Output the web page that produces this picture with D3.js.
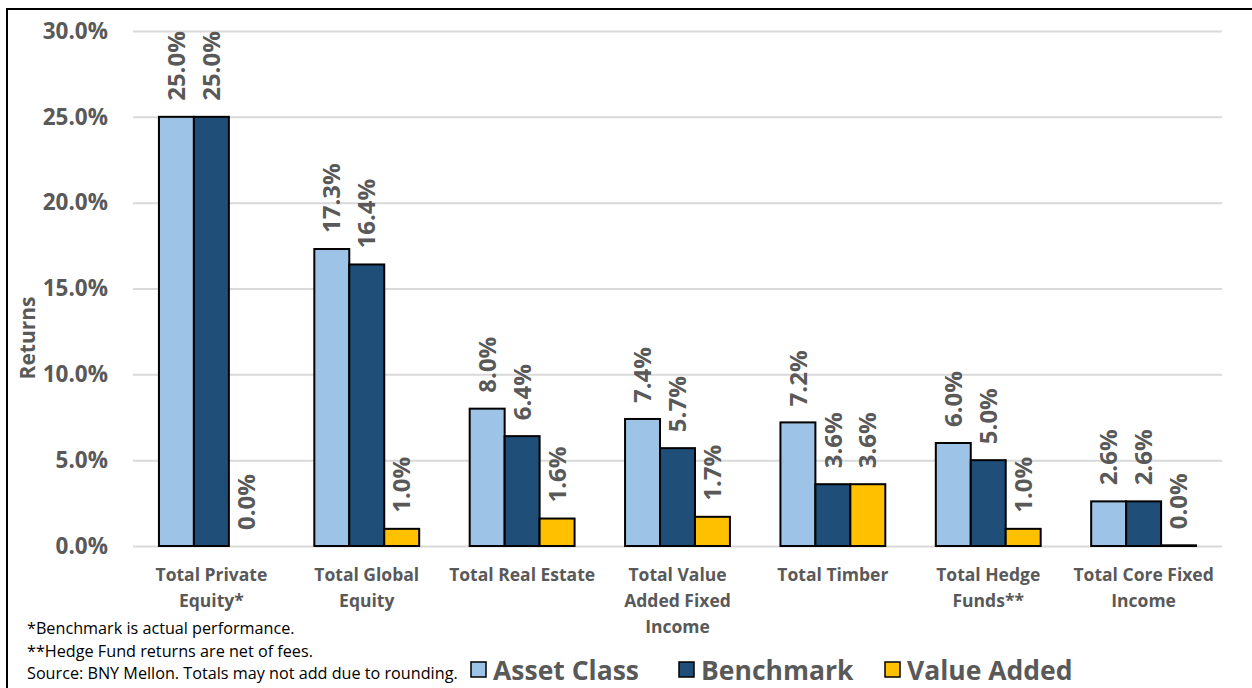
<!DOCTYPE html>
<head>
    <meta charset="utf-8">
    <style>
        body { margin: 0; background: #fff; }
        svg { display: block; font-family: "Open Sans", Lato, sans-serif; }
        .grid line { stroke: #d9d9d9; stroke-width: 2; }
        .grid path { display: none; }
        .yaxis path, .yaxis line { display: none; }
        .yaxis text { font-family: "Open Sans", sans-serif; font-size: 22.5px; font-weight: bold; fill: #595959; }
    </style>
</head>
<body>
    <div id="chart"></div>
    <script src="https://cdnjs.cloudflare.com/ajax/libs/d3/7.8.5/d3.min.js"></script>
    <script>
        var categories = [
            ["Total Private", "Equity*"],
            ["Total Global", "Equity"],
            ["Total Real Estate"],
            ["Total Value", "Added Fixed", "Income"],
            ["Total Timber"],
            ["Total Hedge", "Funds**"],
            ["Total Core Fixed", "Income"]
        ];
        var series = ["Asset Class", "Benchmark", "Value Added"];
        var assetClass = [25.0, 17.3, 8.0, 7.4, 7.2, 6.0, 2.6];
        var benchmark = [25.0, 16.4, 6.4, 5.7, 3.6, 5.0, 2.6];
        var valueAdded = [0.0, 1.0, 1.6, 1.7, 3.6, 1.0, 0.04];
        var yTicks = [0, 5, 10, 15, 20, 25, 30];
        var footnotes = [
            "*Benchmark is actual performance.",
            "**Hedge Fund returns are net of fees.",
            "Source: BNY Mellon. Totals may not add due to rounding."
        ];

        var colors = {"Asset Class": "#9dc3e6", "Benchmark": "#1f4e79", "Value Added": "#ffc000"};
        var grey = "#595959";

        var W = 1252, H = 688;
        var margin = {top: 31, right: 30, bottom: 142, left: 133};
        var width = W - margin.left - margin.right,
            height = H - margin.top - margin.bottom;

        var svg = d3.select("#chart").append("svg")
            .attr("width", W)
            .attr("height", H);

        // outer border (only top and left show in the frame)
        svg.append("rect")
            .attr("x", 7).attr("y", 9)
            .attr("width", W + 20).attr("height", H + 20)
            .attr("fill", "none").attr("stroke", "#000").attr("stroke-width", 2);

        var g = svg.append("g").attr("transform", "translate(" + margin.left + "," + margin.top + ")");

        var keys = categories.map(function(c) { return c.join(" "); });
        var data = keys.map(function(k, i) {
            return {key: k, lines: categories[i], values: [assetClass[i], benchmark[i], valueAdded[i]]};
        });

        var x0 = d3.scaleBand().domain(keys).range([0, width]).paddingInner(0.325).paddingOuter(0.167);
        var x1 = d3.scaleBand().domain(series).range([0, x0.bandwidth()]);
        var y = d3.scaleLinear().domain([0, 30]).range([height, 0]);

        // gridlines
        g.append("g").attr("class", "grid")
            .call(d3.axisLeft(y).tickValues(yTicks).tickSize(-width).tickFormat(""));

        g.append("g").attr("class", "yaxis")
            .call(d3.axisLeft(y).tickValues(yTicks).tickSize(0).tickPadding(25)
                .tickFormat(function(d) { return d.toFixed(1) + "%"; }));

        var groups = g.selectAll(".grp")
            .data(data)
            .enter().append("g")
            .attr("class", "grp")
            .attr("transform", function(d) { return "translate(" + x0(d.key) + ",0)"; });

        var cells = groups.selectAll(".cell")
            .data(function(d) { return d.values.map(function(v, j) { return {s: series[j], v: v}; }); })
            .enter();

        cells.append("rect")
            .attr("x", function(d) { return x1(d.s); })
            .attr("y", function(d) { return y(d.v); })
            .attr("width", x1.bandwidth())
            .attr("height", function(d) { return height - y(d.v); })
            .attr("fill", function(d) { return colors[d.s]; })
            .attr("stroke", "#000")
            .attr("stroke-width", 2);

        // rotated value labels
        cells.append("text")
            .attr("transform", function(d) {
                return "translate(" + (x1(d.s) + x1.bandwidth() / 2) + "," + (y(d.v) - 16) + ") rotate(-90)";
            })
            .attr("dy", "0.36em")
            .attr("text-anchor", "start")
            .attr("font-size", 24)
            .attr("font-weight", "bold")
            .attr("fill", grey)
            .text(function(d) { return d.v.toFixed(1) + "%"; });

        // category labels
        groups.append("text")
            .attr("x", x0.bandwidth() / 2)
            .attr("y", height + 35)
            .attr("text-anchor", "middle")
            .attr("font-size", 17.5)
            .attr("font-weight", "bold")
            .attr("fill", grey)
            .selectAll("tspan")
            .data(function(d) { return d.lines; })
            .enter().append("tspan")
            .attr("x", x0.bandwidth() / 2)
            .attr("dy", function(d, i) { return i === 0 ? 0 : 26; })
            .text(function(d) { return d; });

        // y axis title
        svg.append("text")
            .attr("transform", "translate(35,338) rotate(-90)")
            .attr("text-anchor", "middle")
            .attr("font-size", 21)
            .attr("font-weight", "bold")
            .attr("fill", grey)
            .text("Returns");

        // footnotes
        svg.selectAll(".foot")
            .data(footnotes)
            .enter().append("text")
            .attr("class", "foot")
            .attr("x", 27)
            .attr("y", function(d, i) { return 634 + i * 22.5; })
            .attr("font-size", 16.2)
            .attr("fill", "#000")
            .text(function(d) { return d; });

        // legend
        var legendX = [471, 679, 885];
        var leg = svg.selectAll(".leg")
            .data(series)
            .enter().append("g")
            .attr("class", "leg")
            .attr("transform", function(d, i) { return "translate(" + legendX[i] + ",662)"; });

        leg.append("rect")
            .attr("width", 15).attr("height", 15)
            .attr("fill", function(d) { return colors[d]; })
            .attr("stroke", "#000").attr("stroke-width", 1.5);

        leg.append("text")
            .attr("x", 22)
            .attr("y", 8)
            .attr("dy", "0.36em")
            .attr("font-size", 26.5)
            .attr("font-weight", "bold")
            .attr("fill", grey)
            .text(function(d) { return d; });
    </script>
</body>
